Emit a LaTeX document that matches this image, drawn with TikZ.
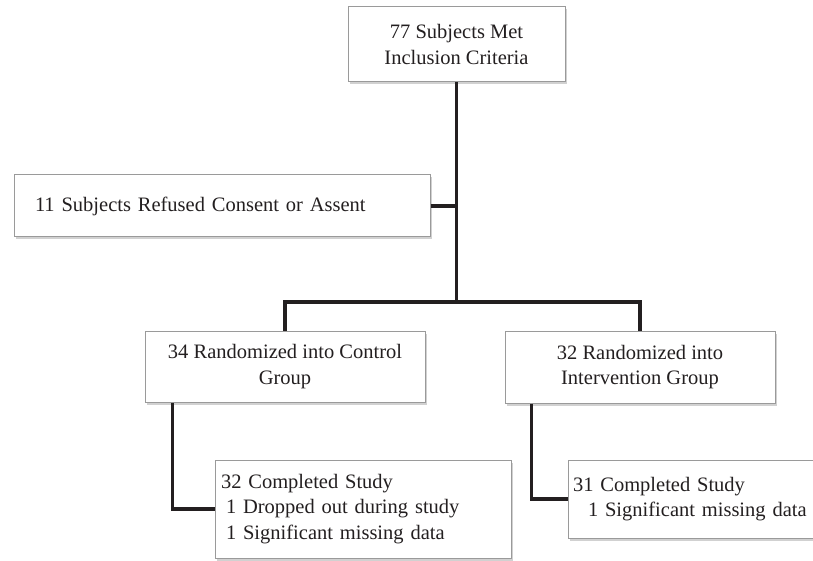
\documentclass[tikz,border=0pt]{standalone}
\usepackage{fontspec}
\setmainfont{Liberation Serif}
\usetikzlibrary{shadows}
\definecolor{conncol}{HTML}{231F20}
\definecolor{boxline}{HTML}{9A9A9A}
\definecolor{txtcol}{HTML}{231F20}
\tikzset{
  box/.style={draw=boxline, line width=1pt, fill=white, rectangle,
    drop shadow={shadow xshift=1.5pt, shadow yshift=-2.5pt, opacity=0.3, fill=black!60},
    font=\fontsize{20.5}{25.5}\selectfont, text=txtcol, inner sep=0pt},
  conn/.style={draw=conncol, line width=3.2pt}
}
\begin{document}
\begin{tikzpicture}[x=1pt,y=-1pt]
\useasboundingbox (0,0) rectangle (813,561);
\clip (0,0) rectangle (813,561);
\node[box, minimum width=217pt, minimum height=75pt, align=center] (top) at (456.5,44.5)
  {77 Subjects Met\\Inclusion Criteria};
\node[box, minimum height=62pt, text width=374pt, inner xsep=21pt, align=left] (ref) at (222,206)
  {11 Subjects Refused Consent or Assent};
\node[box, minimum width=280pt, minimum height=71pt, align=center] (ctl) at (285,366.5)
  {34 Randomized into Control\\Group};
\node[box, minimum width=270pt, minimum height=72pt, align=center] (int) at (640,367)
  {32 Randomized into\\Intervention Group};
\node[box, minimum height=98pt, text width=284pt, inner xsep=6pt, align=left] (cc) at (363,509)
  {32 Completed Study\\\hspace*{5pt}1 Dropped out during study\\\hspace*{5pt}1 Significant missing data};
\node[box, minimum height=78pt, text width=252pt, inner xsep=5pt, align=left] (ic) at (699,499)
  {31 Completed Study\\\hspace*{15pt}1 Significant missing data};
\coordinate (split) at (top.south |- 0,302);
\draw[conn] (top.south) -- (split);
\draw[conn] (ref.east) -- (ref.east -| top.south);
\draw[conn] (ctl.north) |- (split) -| (int.north);
\draw[conn] ([xshift=28pt]ctl.south west) |- (cc.west);
\draw[conn] ([xshift=27pt]int.south west) |- (ic.west);
\end{tikzpicture}
\end{document}
